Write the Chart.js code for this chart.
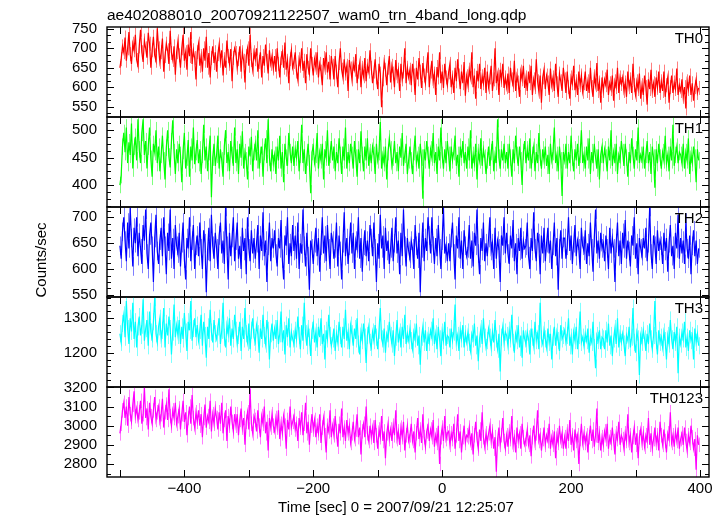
<!DOCTYPE html>
<html>
<head>
<meta charset="utf-8">
<script src="https://cdn.jsdelivr.net/npm/chart.js@4.4.1/dist/chart.umd.min.js"></script>
<style>
  body { margin: 0; background: #fff; }
  #wrap { position: relative; width: 724px; height: 516px; }
  #wrap canvas { position: absolute; left: 0; top: 0; }
</style>
</head>
<body>
<div id="wrap"></div>
<script>
// time bins: start and width in seconds
const tStart = -500, tBin = 2;

// count rates (counts/sec), one value per bin
const th0 = [
  650, 672, 705, 690, 728, 668, 700, 742, 685, 660, 712, 695, 735, 670, 655,
  705, 748, 690, 665, 720, 700, 676, 740, 712, 650, 695, 730, 682, 668, 752,
  700, 665, 690, 725, 640, 680, 712, 695, 660, 745, 688, 670, 705, 632, 690,
  718, 682, 650, 700, 735, 668, 690, 645, 710, 680, 742, 660, 695, 675, 620,
  690, 712, 655, 680, 640, 700, 668, 730, 650, 688, 625, 675, 705, 662, 690,
  640, 685, 710, 668, 695, 630, 672, 650, 720, 680, 660, 698, 615, 675, 700,
  688, 650, 672, 705, 640, 690, 668, 612, 680, 700, 655, 735, 670, 645, 690,
  672, 700, 640, 665, 690, 625, 680, 655, 710, 668, 635, 695, 660, 680, 648,
  680, 640, 700, 660, 625, 675, 690, 650, 715, 645, 668, 610, 672, 695, 650,
  665, 690, 640, 620, 672, 655, 700, 642, 668, 610, 685, 650, 635, 700, 660,
  630, 672, 650, 690, 625, 660, 640, 605, 675, 650, 690, 638, 665, 620, 680,
  655, 620, 680, 640, 600, 662, 700, 645, 625, 672, 635, 655, 590, 670, 648,
  620, 660, 645, 685, 610, 640, 662, 600, 650, 628, 675, 615, 655, 640, 695,
  650, 610, 640, 672, 625, 595, 660, 635, 548, 620, 665, 645, 605, 650, 680,
  612, 655, 635, 600, 670, 628, 645, 590, 660, 620, 640, 700, 610, 650, 625,
  645, 605, 660, 630, 580, 650, 620, 675, 640, 598, 662, 630, 610, 655, 690,
  600, 640, 668, 615, 635, 580, 652, 625, 690, 610, 640, 598, 660, 625, 605,
  638, 660, 600, 625, 585, 650, 615, 672, 630, 595, 640, 610, 665, 578, 628,
  605, 645, 625, 690, 600, 630, 570, 642, 615, 660, 595, 628, 610, 650, 585,
  640, 600, 625, 655, 590, 620, 700, 610, 632, 580, 645, 618, 660, 598, 625,
  600, 635, 585, 650, 620, 605, 668, 590, 630, 612, 575, 640, 620, 655, 598,
  625, 590, 640, 610, 655, 580, 620, 600, 672, 615, 588, 630, 560, 625, 645,
  595, 630, 612, 580, 648, 605, 625, 590, 660, 610, 575, 635, 615, 590, 650,
  620, 585, 640, 600, 570, 625, 610, 655, 592, 615, 580, 640, 605, 630, 588,
  610, 640, 590, 615, 585, 650, 600, 575, 628, 605, 662, 590, 612, 560, 625,
  590, 620, 605, 645, 580, 610, 595, 630, 565, 615, 600, 650, 585, 625, 608,
  625, 590, 612, 575, 640, 600, 620, 585, 660, 605, 580, 615, 595, 635, 570,
  605, 580, 630, 600, 555, 620, 595, 645, 590, 610, 575, 625, 598, 640, 585,
  615, 590, 640, 575, 605, 625, 560, 600, 630, 585, 612, 595, 648, 580, 605,
  590, 620, 575, 600, 545, 615, 595, 630, 580, 610, 565, 600, 620, 585, 598
];
const th1 = [
  400, 418, 470, 495, 460, 505, 440, 478, 455, 512, 430, 470, 488, 445, 520,
  465, 440, 495, 520, 455, 480, 430, 470, 505, 448, 415, 475, 460, 500, 440,
  470, 425, 455, 490, 445, 410, 468, 500, 452, 432, 480, 518, 460, 420, 465,
  440, 475, 455, 405, 462, 495, 430, 450, 482, 415, 470, 445, 505, 438, 460,
  482, 440, 465, 420, 455, 510, 445, 470, 425, 460, 490, 378, 450, 475, 435,
  455, 490, 430, 465, 445, 415, 470, 500, 440, 460, 425, 480, 455, 435, 505,
  440, 465, 420, 475, 450, 498, 430, 460, 445, 410, 470, 452, 488, 425, 460,
  475, 445, 500, 430, 455, 470, 415, 460, 485, 440, 520, 450, 425, 465, 440,
  455, 420, 470, 445, 490, 430, 460, 405, 475, 450, 435, 495, 460, 440, 470,
  435, 465, 450, 480, 425, 455, 510, 440, 465, 420, 450, 475, 440, 385, 460,
  470, 440, 455, 495, 430, 460, 445, 475, 410, 465, 450, 500, 435, 455, 480,
  445, 470, 425, 460, 440, 485, 455, 420, 470, 445, 505, 430, 460, 440, 475,
  455, 430, 480, 450, 415, 465, 440, 498, 455, 425, 470, 445, 485, 435, 460,
  440, 470, 455, 420, 475, 445, 460, 515, 430, 455, 440, 470, 410, 460, 485,
  465, 435, 450, 480, 440, 460, 425, 470, 450, 495, 435, 455, 475, 420, 445,
  470, 445, 420, 460, 490, 440, 455, 430, 475, 450, 375, 465, 445, 480, 455,
  430, 465, 450, 495, 440, 460, 420, 470, 445, 505, 455, 430, 465, 440, 480,
  455, 425, 470, 445, 460, 490, 435, 455, 415, 470, 450, 480, 440, 460, 430,
  470, 445, 500, 430, 455, 440, 475, 410, 460, 445, 485, 435, 465, 450, 420,
  445, 470, 435, 460, 480, 425, 455, 440, 520, 450, 430, 465, 445, 475, 440,
  460, 430, 475, 450, 415, 465, 440, 490, 455, 435, 470, 445, 400, 460, 480,
  440, 465, 445, 485, 430, 455, 470, 425, 460, 440, 495, 450, 430, 465, 445,
  470, 435, 455, 420, 475, 445, 460, 505, 440, 455, 425, 470, 445, 380, 460,
  445, 475, 430, 460, 440, 490, 450, 425, 465, 445, 475, 435, 455, 500, 440,
  455, 430, 470, 445, 485, 420, 460, 440, 475, 450, 430, 465, 410, 455, 470,
  440, 465, 450, 425, 470, 445, 500, 435, 460, 440, 475, 420, 455, 445, 480,
  460, 435, 475, 450, 415, 460, 440, 485, 455, 430, 465, 445, 505, 440, 455,
  445, 470, 430, 455, 480, 440, 460, 420, 470, 450, 395, 465, 440, 475, 450,
  430, 460, 445, 490, 440, 455, 425, 470, 445, 510, 435, 455, 470, 440, 460,
  455, 440, 475, 430, 460, 445, 485, 420, 455, 440, 470, 450, 405, 465, 445
];
const th2 = [
  645, 620, 672, 700, 655, 615, 690, 640, 718, 660, 605, 680, 650, 700, 625,
  670, 640, 610, 685, 655, 715, 630, 600, 665, 690, 645, 575, 660, 705, 635,
  610, 655, 680, 625, 700, 645, 590, 670, 635, 715, 620, 660, 600, 685, 645,
  630, 670, 605, 650, 690, 620, 580, 660, 640, 700, 615, 655, 685, 600, 645,
  665, 625, 690, 640, 600, 675, 650, 555, 635, 680, 615, 705, 645, 620, 670,
  640, 600, 665, 690, 630, 655, 610, 720, 645, 580, 670, 625, 660, 700, 615,
  655, 690, 620, 645, 600, 680, 635, 660, 590, 700, 640, 615, 675, 630, 660,
  620, 650, 685, 600, 665, 635, 710, 625, 655, 575, 645, 690, 615, 660, 640,
  675, 630, 605, 660, 640, 695, 620, 580, 665, 645, 700, 610, 650, 625, 685,
  635, 665, 620, 690, 600, 650, 630, 715, 645, 605, 670, 625, 560, 655, 640,
  610, 650, 680, 625, 660, 595, 645, 700, 630, 665, 615, 685, 640, 600, 670,
  655, 620, 640, 690, 605, 665, 635, 580, 650, 710, 625, 660, 610, 645, 690,
  630, 670, 600, 655, 640, 700, 620, 660, 595, 645, 675, 625, 655, 615, 685,
  660, 625, 690, 640, 575, 650, 620, 705, 640, 665, 600, 680, 635, 655, 610,
  640, 680, 615, 650, 700, 630, 655, 590, 670, 625, 715, 645, 605, 660, 635,
  620, 655, 640, 600, 685, 645, 620, 670, 555, 640, 690, 615, 660, 635, 700,
  665, 630, 700, 645, 610, 660, 625, 685, 640, 600, 655, 720, 630, 645, 615,
  650, 615, 660, 690, 630, 580, 665, 640, 700, 620, 655, 600, 675, 645, 625,
  640, 685, 620, 655, 605, 670, 645, 715, 630, 590, 660, 635, 690, 615, 650,
  625, 660, 700, 635, 650, 600, 680, 620, 655, 640, 575, 665, 645, 700, 630,
  670, 630, 610, 665, 640, 695, 615, 650, 590, 660, 635, 680, 620, 655, 640,
  645, 690, 625, 600, 660, 635, 710, 640, 615, 670, 650, 590, 665, 630, 680,
  615, 650, 680, 630, 655, 600, 645, 690, 625, 660, 560, 640, 675, 620, 660,
  660, 620, 645, 700, 635, 665, 610, 650, 685, 625, 655, 640, 600, 680, 645,
  635, 675, 610, 650, 625, 690, 640, 595, 660, 715, 630, 655, 620, 670, 640,
  650, 615, 665, 640, 600, 680, 630, 660, 640, 575, 650, 690, 625, 655, 610,
  670, 640, 695, 620, 655, 635, 605, 665, 645, 700, 620, 650, 590, 660, 640,
  625, 660, 640, 680, 615, 650, 720, 630, 600, 665, 645, 610, 675, 635, 655,
  645, 610, 670, 635, 660, 595, 650, 685, 625, 645, 600, 670, 640, 705, 620,
  660, 630, 655, 610, 690, 640, 620, 665, 590, 645, 675, 625, 655, 610, 640
];
const th3 = [
  1255, 1230, 1285, 1310, 1245, 1350, 1270, 1225, 1300, 1262, 1345, 1240, 1290, 1215, 1275,
  1305, 1250, 1280, 1355, 1235, 1270, 1295, 1220, 1320, 1260, 1240, 1290, 1360, 1255, 1230,
  1275, 1300, 1240, 1265, 1330, 1215, 1285, 1250, 1305, 1270, 1195, 1260, 1340, 1245, 1280,
  1250, 1295, 1225, 1275, 1240, 1315, 1260, 1205, 1290, 1265, 1350, 1235, 1270, 1300, 1245,
  1280, 1235, 1265, 1310, 1220, 1290, 1250, 1185, 1275, 1240, 1325, 1260, 1230, 1295, 1255,
  1240, 1275, 1300, 1225, 1265, 1345, 1245, 1215, 1280, 1255, 1300, 1220, 1270, 1240, 1310,
  1265, 1225, 1250, 1290, 1205, 1275, 1240, 1330, 1255, 1230, 1285, 1210, 1265, 1300, 1245,
  1230, 1280, 1255, 1200, 1270, 1240, 1310, 1250, 1225, 1295, 1265, 1180, 1255, 1285, 1235,
  1270, 1240, 1295, 1225, 1255, 1320, 1230, 1265, 1195, 1280, 1245, 1300, 1215, 1260, 1240,
  1225, 1265, 1240, 1305, 1250, 1210, 1280, 1235, 1345, 1255, 1220, 1270, 1245, 1190, 1265,
  1285, 1230, 1260, 1215, 1275, 1245, 1300, 1225, 1255, 1180, 1265, 1240, 1310, 1250, 1220,
  1240, 1270, 1205, 1255, 1230, 1290, 1250, 1215, 1275, 1240, 1325, 1235, 1260, 1210, 1280,
  1255, 1220, 1270, 1240, 1300, 1225, 1195, 1260, 1235, 1285, 1245, 1170, 1250, 1275, 1230,
  1215, 1260, 1235, 1280, 1245, 1210, 1265, 1330, 1240, 1225, 1270, 1200, 1255, 1240, 1290,
  1250, 1225, 1265, 1190, 1245, 1295, 1230, 1260, 1215, 1275, 1240, 1310, 1225, 1255, 1235,
  1270, 1235, 1210, 1260, 1240, 1285, 1220, 1250, 1165, 1245, 1275, 1230, 1265, 1205, 1250,
  1230, 1265, 1245, 1300, 1225, 1255, 1210, 1275, 1240, 1190, 1260, 1235, 1290, 1220, 1250,
  1245, 1215, 1270, 1235, 1260, 1340, 1230, 1250, 1205, 1265, 1240, 1280, 1215, 1255, 1230,
  1260, 1230, 1205, 1255, 1240, 1285, 1220, 1250, 1175, 1240, 1270, 1225, 1300, 1245, 1215,
  1235, 1270, 1245, 1215, 1260, 1230, 1295, 1240, 1210, 1255, 1145, 1245, 1275, 1230, 1260,
  1250, 1220, 1265, 1240, 1310, 1230, 1200, 1255, 1235, 1280, 1215, 1250, 1185, 1265, 1240,
  1225, 1260, 1240, 1195, 1270, 1245, 1220, 1290, 1235, 1255, 1210, 1345, 1240, 1225, 1265,
  1240, 1215, 1270, 1230, 1255, 1180, 1245, 1275, 1220, 1260, 1235, 1205, 1280, 1240, 1250,
  1265, 1230, 1250, 1300, 1220, 1245, 1195, 1260, 1235, 1275, 1210, 1250, 1320, 1230, 1245,
  1220, 1255, 1235, 1270, 1200, 1245, 1230, 1290, 1215, 1155, 1250, 1235, 1265, 1210, 1245,
  1240, 1210, 1265, 1230, 1285, 1220, 1250, 1190, 1240, 1270, 1225, 1300, 1215, 1255, 1230,
  1255, 1225, 1190, 1250, 1235, 1275, 1215, 1245, 1330, 1230, 1200, 1260, 1240, 1135, 1250,
  1230, 1265, 1240, 1205, 1255, 1225, 1285, 1240, 1210, 1250, 1350, 1235, 1195, 1265, 1230,
  1245, 1215, 1260, 1235, 1180, 1250, 1225, 1295, 1240, 1210, 1260, 1230, 1275, 1140, 1245,
  1225, 1260, 1240, 1290, 1215, 1245, 1205, 1265, 1235, 1250, 1180, 1270, 1230, 1255, 1220
];
const th0123 = [
  2960, 3010, 3080, 3120, 3040, 3100, 3000, 3150, 3060, 3020, 3110, 3180, 3050, 3090, 3030,
  3070, 3130, 3010, 3060, 3200, 3040, 3090, 2980, 3120, 3050, 3010, 3080, 3150, 3030, 3070,
  3100, 3020, 3060, 3140, 2990, 3070, 3110, 3030, 3190, 3050, 3000, 3080, 3040, 3120, 3010,
  3050, 3090, 2980, 3060, 3130, 3020, 3070, 2950, 3040, 3100, 3010, 3160, 3040, 2990, 3070,
  3020, 3080, 3000, 3060, 2940, 3040, 3110, 2990, 3050, 3020, 3130, 2970, 3060, 3010, 3090,
  3040, 2980, 3070, 3010, 3120, 2960, 3030, 3080, 2920, 3050, 3000, 3100, 3020, 2970, 3060,
  3000, 3060, 2950, 3030, 3090, 2990, 3040, 2900, 3020, 3070, 2980, 3190, 3010, 2960, 3050,
  3030, 2970, 3080, 3000, 2940, 3050, 3010, 3100, 2960, 3020, 2870, 3040, 2990, 3060, 3000,
  2970, 3040, 2990, 3080, 2930, 3010, 2960, 3050, 3000, 2880, 3030, 2980, 3100, 2990, 3020,
  3050, 2980, 3010, 2920, 3040, 2990, 3070, 2950, 3010, 3120, 2960, 3020, 2900, 3000, 3060,
  2980, 3030, 2940, 3000, 2960, 3060, 2910, 2990, 3040, 2950, 2860, 3000, 2970, 3080, 2940,
  3000, 2950, 3050, 2970, 2890, 3010, 2960, 3090, 2940, 2990, 2920, 3030, 2960, 3000, 2910,
  2960, 3020, 2930, 2980, 3060, 2940, 2990, 2850, 2970, 3010, 2940, 3100, 2960, 2920, 3000,
  2940, 2990, 2910, 3030, 2950, 2880, 2980, 2940, 3050, 2920, 2970, 2830, 2960, 3010, 2930,
  2980, 2920, 3000, 2950, 3080, 2930, 2970, 2900, 2990, 2940, 3020, 2870, 2950, 3000, 2920,
  2950, 3010, 2920, 2970, 2860, 2960, 3040, 2930, 2980, 2910, 3060, 2940, 2890, 2970, 3000,
  2920, 2980, 2940, 3030, 2890, 2950, 2910, 3000, 2800, 2940, 2990, 2920, 3050, 2930, 2960,
  2970, 2900, 2960, 2930, 3010, 2880, 2950, 3060, 2920, 2970, 2860, 2940, 3000, 2910, 2950,
  2940, 2990, 2910, 2960, 2850, 2950, 3020, 2930, 2880, 2980, 2920, 3070, 2940, 2890, 2960,
  2910, 2960, 3000, 2920, 2970, 2880, 2940, 2760, 2930, 2990, 2900, 2950, 3040, 2920, 2880,
  2950, 2890, 2970, 2930, 3050, 2900, 2940, 2860, 2990, 2920, 2960, 2880, 3010, 2940, 2900,
  2930, 2980, 2900, 2950, 2840, 2940, 3000, 2910, 2960, 3080, 2920, 2950, 2870, 2930, 2990,
  2900, 2950, 2920, 3010, 2880, 2940, 2900, 2970, 2830, 2950, 2910, 3000, 2920, 2960, 2880,
  2940, 2880, 2970, 2920, 3030, 2900, 2950, 2870, 2980, 2920, 2950, 2800, 2930, 3010, 2910,
  2960, 2910, 2950, 2860, 2940, 3000, 2920, 2980, 2890, 2950, 3090, 2910, 2960, 2870, 2940,
  2900, 2970, 2930, 3010, 2880, 2940, 2910, 2990, 2920, 2850, 2960, 2930, 3020, 2900, 2950,
  2930, 2880, 2960, 2920, 3060, 2910, 2950, 2860, 2940, 2990, 2900, 2960, 2830, 2940, 2980,
  2910, 2960, 2890, 2950, 2920, 3040, 2900, 2960, 2880, 2930, 2990, 2910, 2950, 2870, 3020,
  2950, 2900, 2980, 2920, 2860, 2960, 2930, 3070, 2910, 2950, 2890, 2970, 2920, 2990, 2880,
  2930, 2960, 2900, 2990, 2920, 2870, 2950, 2910, 3000, 2940, 2880, 2930, 2770, 2950, 2900
];

// typical 1-sigma error per bin for each band
const errs = [18, 15, 18, 25, 38];

const series = [th0, th1, th2, th3, th0123];
const panelNames = ['TH0', 'TH1', 'TH2', 'TH3', 'TH0123'];
const yMins = [523, 360, 546, 1100, 2732];
const yMaxs = [755, 524, 720, 1362, 3202];
const yLabels = [
  [550, 600, 650, 700, 750],
  [400, 450, 500],
  [550, 600, 650, 700],
  [1200, 1300],
  [2800, 2900, 3000, 3100, 3200]
];
const yMajor = [50, 50, 50, 100, 100];
const yMinorDiv = [3, 4, 4, 5, 2];
const xLabels = [-400, -200, 0, 200, 400];
const xMin = -520, xMax = 414;

const titleText = 'ae402088010_20070921122507_wam0_trn_4band_long.qdp';
const xTitle = 'Time [sec] 0 = 2007/09/21 12:25:07';
const yTitle = 'Counts/sec';

// look
const lineColors = ['#ff0000', '#00ff00', '#0000ff', '#00ffff', '#ff00ff'];
const barColors = ['rgba(255,0,0,0.5)', 'rgba(0,255,0,0.5)', 'rgba(0,0,255,0.5)', 'rgba(0,255,255,0.5)', 'rgba(255,0,255,0.5)'];
const W = 724, H = 516;
const plotLeft = 107, plotRight = 709, firstTop = 27, panelH = 90;
const FONT = '"Liberation Sans", Arial, Helvetica, sans-serif';

function fmt(v) {
  return v < 0 ? '\u2212' + Math.abs(v) : String(v);
}

// error bars, frame, inward ticks and the panel / page texts
function panelPlugin(i) {
  return {
    id: 'panel' + i,
    beforeDatasetsDraw(chart) {
      const { ctx, chartArea: a, scales: { x, y } } = chart;
      ctx.save();
      ctx.beginPath();
      ctx.rect(a.left, a.top, a.right - a.left, a.bottom - a.top);
      ctx.clip();
      ctx.strokeStyle = barColors[i];
      ctx.lineWidth = 1;
      ctx.beginPath();
      series[i].forEach((v, k) => {
        const px = Math.round(x.getPixelForValue(tStart + k * tBin)) + 0.5;
        ctx.moveTo(px, y.getPixelForValue(v - errs[i]));
        ctx.lineTo(px, y.getPixelForValue(v + errs[i]));
      });
      ctx.stroke();
      ctx.restore();
    },
    afterDraw(chart) {
      const { ctx, chartArea: a, scales: { x, y } } = chart;
      ctx.save();
      ctx.strokeStyle = '#000';
      ctx.lineWidth = 1.4;
      ctx.strokeRect(a.left, a.top, a.right - a.left, a.bottom - a.top);

      ctx.lineWidth = 1;
      ctx.beginPath();
      for (let v = -500; v <= 400; v += 100) {
        const px = Math.round(x.getPixelForValue(v)) + 0.5;
        ctx.moveTo(px, a.top); ctx.lineTo(px, a.top + 7);
        ctx.moveTo(px, a.bottom); ctx.lineTo(px, a.bottom - 7);
      }
      const step = yMajor[i] / yMinorDiv[i];
      for (let n = Math.ceil(yMins[i] / step); n * step <= yMaxs[i]; n++) {
        const v = n * step;
        const major = n % yMinorDiv[i] === 0;
        const len = major ? 7 : 4;
        const py = Math.round(y.getPixelForValue(v)) + 0.5;
        ctx.moveTo(a.left, py); ctx.lineTo(a.left + len, py);
        ctx.moveTo(a.right, py); ctx.lineTo(a.right - len, py);
      }
      ctx.stroke();

      ctx.fillStyle = '#000';
      ctx.font = '15px ' + FONT;
      ctx.textAlign = 'right';
      ctx.textBaseline = 'alphabetic';
      ctx.fillText(panelNames[i], a.right - 6, a.top + 16);

      if (i === 0) {
        ctx.textAlign = 'left';
        ctx.font = '15.5px ' + FONT;
        ctx.fillText(titleText, a.left, 20);
      }
      if (i === 2) {
        ctx.save();
        ctx.translate(46, 260);
        ctx.rotate(-Math.PI / 2);
        ctx.textAlign = 'center';
        ctx.font = '15px ' + FONT;
        ctx.fillText(yTitle, 0, 0);
        ctx.restore();
      }
      if (i === 4) {
        ctx.textAlign = 'center';
        ctx.font = '15px ' + FONT;
        ctx.fillText(xTitle, 396, 512);
      }
      ctx.restore();
    }
  };
}

const wrap = document.getElementById('wrap');
series.forEach((vals, i) => {
  const cv = document.createElement('canvas');
  cv.width = W; cv.height = H;
  wrap.appendChild(cv);
  const top = firstTop + i * panelH;
  const last = i === series.length - 1;

  new Chart(cv.getContext('2d'), {
    type: 'line',
    data: {
      datasets: [{
        data: vals.map((v, k) => ({ x: tStart + k * tBin, y: v })),
        borderColor: lineColors[i],
        borderWidth: 1.2,
        pointRadius: 0,
        tension: 0,
        fill: false
      }]
    },
    options: {
      responsive: false,
      animation: false,
      events: [],
      layout: { padding: { left: 0, right: W - plotRight, top: top, bottom: last ? 0 : H - top - panelH } },
      plugins: { legend: { display: false }, tooltip: { enabled: false } },
      scales: {
        x: {
          type: 'linear', min: xMin, max: xMax, display: last,
          grid: { display: false, drawTicks: false },
          border: { display: false },
          afterBuildTicks: s => { s.ticks = xLabels.map(v => ({ value: v })); },
          afterFit: s => { s.height = last ? H - top - panelH : 0; },
          ticks: {
            autoSkip: false, maxRotation: 0, padding: 3, color: '#000',
            font: { family: FONT, size: 15 },
            callback: v => fmt(v)
          }
        },
        y: {
          type: 'linear', min: yMins[i], max: yMaxs[i],
          grid: { display: false, drawTicks: false },
          border: { display: false },
          afterBuildTicks: s => { s.ticks = yLabels[i].map(v => ({ value: v })); },
          afterFit: s => { s.width = plotLeft; },
          ticks: {
            autoSkip: false, padding: 10, color: '#000',
            font: { family: FONT, size: 15 },
            callback: v => fmt(v)
          }
        }
      }
    },
    plugins: [panelPlugin(i)]
  });
});
</script>
</body>
</html>
